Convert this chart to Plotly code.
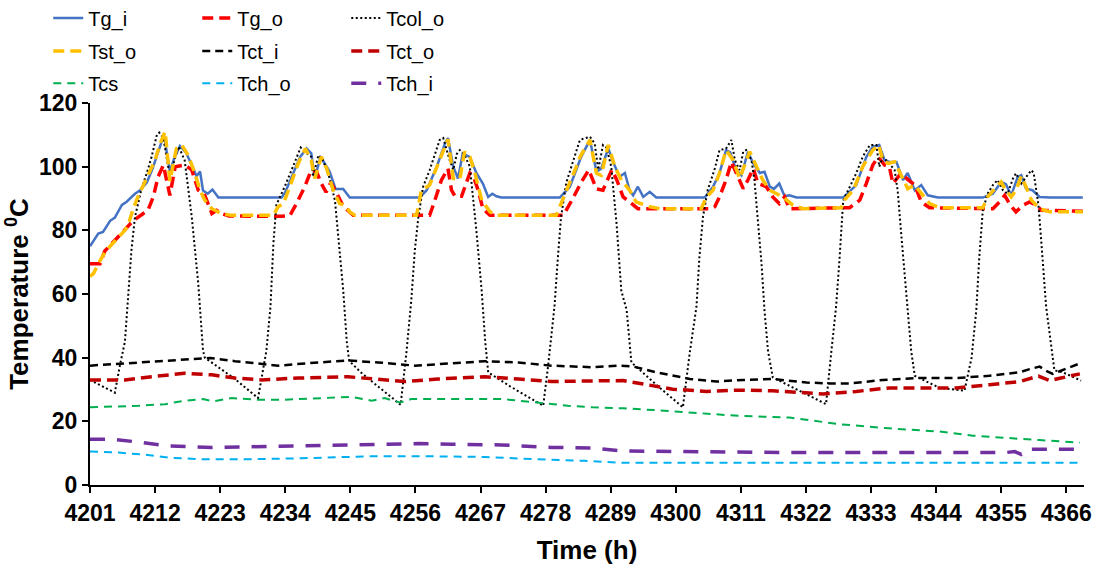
import plotly.graph_objects as go

# ---------------- data (hour of year, temperature in degC) ----------------
tg_i_h = [4201.0, 4202.4, 4203.2, 4204.4, 4205.2, 4206.4, 4207.2, 4208.6, 4209.4, 4210.6, 4211.5, 4212.4, 4213.5,
          4214.5, 4215.3, 4216.2, 4217.2, 4218.2, 4219.0, 4219.6, 4220.1, 4220.9, 4221.7, 4222.7, 4233.4,
          4234.0, 4235.3, 4236.5, 4237.6, 4238.4, 4239.0, 4239.9, 4240.5, 4241.5, 4242.5, 4243.8, 4244.9, 4256.7,
          4257.9, 4259.6, 4261.0, 4261.5, 4262.4, 4263.2, 4264.0, 4265.2, 4266.3, 4267.4, 4268.3, 4269.0, 4269.7,
          4270.5, 4280.4,
          4282.1, 4284.0, 4285.5, 4286.6, 4287.4, 4288.6, 4289.4, 4290.5, 4291.4, 4292.2, 4292.8, 4293.6, 4294.5,
          4295.6, 4296.7, 4304.9,
          4306.3, 4307.4, 4308.5, 4309.2, 4310.2, 4311.1, 4312.2, 4313.1, 4314.2, 4315.0, 4315.9, 4316.6, 4317.5,
          4318.4, 4319.2, 4320.4, 4328.3,
          4330.5, 4332.2, 4333.3, 4334.4, 4335.3, 4336.1, 4337.3, 4338.4, 4339.2, 4340.4, 4341.5, 4342.6, 4344.3,
          4351.9,
          4353.6, 4355.0, 4355.8, 4356.7, 4357.8, 4358.4, 4359.2, 4360.3, 4361.5, 4363.2, 4368.8]
tg_i_v = [75.0, 79.0, 79.5, 83.0, 84.0, 88.0, 89.0, 91.5, 92.5, 95.0, 99.0, 104.0, 110.0,
          98.5, 103.0, 106.5, 104.5, 100.5, 97.0, 98.5, 92.5, 91.5, 92.8, 90.3, 90.3,
          92.0, 98.0, 103.0, 105.7, 104.2, 96.5, 102.6, 101.5, 98.5, 93.0, 93.0, 90.3, 90.3,
          92.6, 100.0, 107.3, 109.0, 100.0, 96.3, 104.2, 103.0, 98.0, 94.7, 90.5, 91.5, 90.7,
          90.3, 90.3,
          93.7, 103.0, 108.4, 98.4, 99.4, 105.7, 101.5, 96.8, 98.0, 92.6, 91.0, 93.7, 90.5,
          92.1, 90.3, 90.3,
          93.7, 98.0, 105.2, 104.5, 99.0, 97.3, 104.7, 101.0, 98.0, 98.4, 93.7, 93.0, 94.7,
          90.7, 91.0, 90.3, 90.3,
          94.2, 103.0, 106.3, 106.8, 102.0, 101.5, 101.5, 95.8, 98.0, 92.6, 94.2, 91.0, 90.3,
          90.3,
          91.5, 95.2, 94.5, 91.0, 96.8, 97.3, 93.1, 92.6, 90.5, 90.3, 90.3]

tg_o_h = [4201.0, 4202.7, 4203.5, 4205.5, 4206.9, 4208.3, 4210.0, 4210.8, 4211.7, 4212.5, 4213.4, 4214.5, 4215.4,
          4217.0, 4218.2, 4219.3, 4220.4, 4221.6, 4222.4, 4223.2, 4224.5, 4233.4,
          4234.8, 4235.9, 4237.3, 4238.4, 4239.3, 4240.1, 4240.9, 4241.7, 4242.6, 4243.8, 4245.5, 4258.4,
          4259.3, 4260.4, 4261.5, 4262.1, 4262.7, 4263.8, 4265.2, 4265.8, 4266.6, 4267.4, 4268.6, 4281.0,
          4282.6, 4284.0, 4285.3, 4286.6, 4287.7, 4289.2, 4290.0, 4291.1, 4292.5, 4293.6, 4306.0,
          4306.6, 4307.4, 4308.5, 4309.4, 4310.2, 4311.4, 4312.2, 4313.1, 4313.9, 4315.3, 4316.4, 4317.5,
          4318.4, 4319.2, 4329.4,
          4331.1, 4332.2, 4333.3, 4334.2, 4335.3, 4336.1, 4336.7, 4338.1, 4339.2, 4340.4, 4341.5, 4342.9,
          4353.6,
          4354.7, 4355.6, 4356.5, 4357.5, 4358.7, 4359.8, 4360.9, 4361.8, 4368.8]
tg_o_v = [69.5, 69.5, 73.5, 77.5, 80.5, 83.0, 85.3, 86.3, 90.5, 96.8, 100.5, 91.0, 100.0,
          100.5, 99.0, 92.6, 91.0, 85.3, 86.3, 85.3, 84.5, 84.4,
          84.7, 88.4, 93.7, 98.9, 98.4, 94.7, 92.0, 95.0, 92.0, 87.5, 84.7, 84.7,
          89.5, 95.8, 99.4, 92.6, 90.7, 90.7, 98.0, 97.0, 92.6, 86.8, 84.7, 84.7,
          90.0, 95.0, 99.0, 93.0, 92.6, 99.0, 96.0, 90.5, 88.5, 86.8, 86.8,
          87.4, 90.5, 95.8, 101.5, 98.0, 93.1, 95.8, 99.4, 94.7, 93.7, 90.5, 88.4,
          90.5, 86.8, 87.1,
          89.5, 94.7, 100.5, 103.1, 100.5, 100.0, 94.7, 98.0, 96.0, 94.2, 88.9, 87.1,
          86.8,
          88.9, 91.0, 88.0, 85.8, 87.9, 88.9, 87.9, 86.3, 86.0]

tcol_o_h = [4201.0, 4205.2, 4206.1, 4206.9, 4207.4, 4208.0, 4208.6, 4209.7, 4210.6, 4211.4, 4212.3, 4212.7,
            4213.4, 4214.2, 4214.7, 4215.4, 4216.0, 4217.0, 4218.2, 4219.3, 4220.1, 4220.4, 4222.7, 4225.5,
            4229.4, 4230.8, 4231.5, 4232.0, 4232.5, 4233.9, 4235.3, 4236.6, 4237.4, 4238.4, 4238.7, 4239.6,
            4240.3, 4241.5, 4242.4, 4243.2, 4243.8, 4244.4, 4244.8, 4247.0, 4250.0, 4253.5,
            4254.5, 4255.3, 4255.9, 4256.5, 4257.3, 4258.4, 4260.1, 4260.7, 4261.8, 4262.4, 4263.0, 4263.5,
            4264.2, 4265.2, 4266.3, 4267.2, 4267.8, 4268.3, 4272.0, 4277.6,
            4278.4, 4279.5, 4280.1, 4280.6, 4281.5, 4282.5, 4283.8, 4285.5, 4286.3, 4286.9, 4287.7, 4288.3,
            4289.1, 4290.0, 4290.8, 4291.7, 4292.5, 4296.7, 4301.2,
            4302.4, 4303.5, 4304.0, 4304.6, 4305.4, 4306.6, 4307.4, 4308.5, 4309.4, 4310.0, 4310.8, 4311.4,
            4311.9, 4312.8, 4313.3, 4313.9, 4314.5, 4315.0, 4315.6, 4316.4, 4320.5, 4325.4,
            4326.3, 4327.1, 4327.7, 4328.3, 4329.4, 4330.5, 4331.6, 4332.8, 4333.9, 4334.4, 4335.0, 4335.9,
            4337.0, 4337.5, 4338.1, 4338.7, 4339.2, 4339.8, 4340.4, 4344.6, 4348.8,
            4350.0, 4350.8, 4351.3, 4351.9, 4352.7, 4353.6, 4354.4, 4355.3, 4356.1, 4357.0, 4357.5, 4358.4,
            4359.2, 4360.1, 4360.5, 4361.3, 4361.8, 4362.6, 4364.0, 4365.4, 4368.5]
tcol_o_v = [33.0, 29.0, 38.0, 45.0, 58.0, 73.7, 84.2, 93.0, 98.0, 103.0, 110.0, 110.7,
            109.0, 100.0, 98.0, 103.0, 106.3, 102.0, 84.2, 63.2, 42.2, 40.0, 37.0, 33.3,
            27.3, 42.0, 56.0, 76.0, 88.0, 93.7, 100.0, 106.0, 104.5, 103.1, 96.8, 103.6,
            102.5, 96.4, 89.4, 73.7, 61.1, 45.0, 39.0, 35.0, 30.5, 25.2,
            42.0, 58.0, 73.7, 84.2, 93.7, 98.9, 108.4, 109.0, 102.0, 99.0, 104.0, 105.2,
            104.0, 100.0, 80.0, 61.0, 45.0, 35.4, 31.0, 24.9,
            37.0, 56.0, 72.0, 84.0, 95.0, 101.0, 108.4, 109.4, 107.3, 99.0, 106.8, 106.0,
            100.0, 82.0, 61.0, 55.0, 38.5, 31.5, 24.4,
            42.0, 56.0, 71.6, 84.2, 92.6, 99.4, 105.2, 105.7, 108.4, 102.0, 98.9, 104.7,
            105.2, 102.0, 95.8, 82.1, 69.5, 54.8, 42.0, 33.8, 30.0, 25.4,
            42.0, 56.0, 71.6, 89.4, 93.6, 97.9, 103.1, 106.8, 106.8, 100.0, 103.0, 101.5,
            98.9, 92.6, 79.0, 65.3, 54.8, 42.0, 34.3, 30.5, 29.6,
            40.0, 55.0, 71.6, 86.3, 91.5, 94.2, 95.8, 92.6, 91.5, 96.3, 97.9, 94.7,
            96.8, 98.9, 98.0, 88.0, 76.0, 56.0, 36.0, 35.4, 32.8]

tst_o_h = [4201.0, 4201.6, 4202.7, 4203.5, 4204.4, 4205.8, 4206.9, 4207.5, 4208.3, 4209.2, 4210.6, 4212.0, 4212.8,
           4213.7, 4214.5, 4215.6, 4216.5, 4217.6, 4218.7, 4219.6, 4220.4, 4221.6, 4223.2, 4224.9, 4232.0,
           4232.8, 4233.7,
           4234.8, 4236.2, 4237.4, 4238.4, 4239.0, 4240.1, 4241.0, 4242.1, 4243.2, 4244.1, 4244.9, 4245.8, 4256.2,
           4257.0, 4258.4, 4259.8, 4261.5, 4262.4, 4263.5, 4264.3, 4265.2, 4266.0, 4267.2, 4268.6, 4269.7, 4279.8,
           4280.4, 4281.2, 4283.2, 4283.8, 4285.5, 4286.6, 4287.4, 4288.6, 4289.7, 4290.8, 4292.2, 4293.3, 4295.6,
           4297.3, 4304.3,
           4305.2, 4306.3, 4307.4, 4308.5, 4309.7, 4310.8, 4312.5, 4313.6, 4314.7, 4315.9, 4317.0, 4318.1, 4319.8,
           4321.5, 4328.0,
           4328.5, 4330.0, 4331.6, 4333.3, 4334.3, 4335.0, 4335.9, 4337.0, 4337.8, 4339.2, 4340.4, 4341.5, 4342.9,
           4344.6, 4351.9,
           4352.7, 4354.2, 4355.0, 4355.8, 4356.7, 4357.5, 4358.4, 4359.2, 4360.1, 4361.5, 4363.2, 4368.8]
tst_o_v = [65.5, 66.5, 70.5, 73.0, 75.0, 78.0, 80.0, 82.0, 86.8, 91.0, 96.3, 102.0, 107.0,
           111.0, 95.5, 105.7, 106.8, 103.6, 98.0, 92.6, 89.5, 86.8, 85.3, 84.7, 84.7,
           87.4, 88.4,
           93.7, 101.0, 105.7, 102.0, 96.3, 103.1, 99.4, 92.6, 88.4, 87.9, 85.8, 84.7, 84.7,
           92.6, 94.2, 101.0, 108.6, 96.3, 96.0, 104.7, 103.1, 98.4, 89.5, 85.8, 84.7, 84.7,
           87.4, 90.5, 100.0, 103.0, 108.4, 97.9, 97.3, 106.8, 100.0, 95.8, 92.6, 88.9, 87.4,
           86.8, 86.8,
           90.5, 92.6, 98.0, 105.2, 102.0, 96.3, 104.7, 100.0, 95.8, 92.6, 91.6, 90.5, 87.9,
           86.8, 87.1,
           89.5, 92.6, 100.0, 105.2, 106.8, 102.0, 101.0, 101.5, 98.4, 93.1, 94.2, 91.5, 88.4,
           87.1, 87.1,
           90.5, 93.7, 95.2, 92.6, 90.5, 92.6, 97.0, 93.7, 89.5, 86.8, 85.8, 85.8]

tct_i_h = [4201.0, 4206.9, 4212.5, 4217.0, 4221.3, 4225.5, 4232.8, 4239.6, 4244.6, 4249.7, 4255.9, 4262.1,
           4267.7, 4273.4, 4279.0, 4286.0, 4290.5, 4292.8, 4296.7, 4302.4, 4306.9, 4311.4, 4316.4, 4322.1,
           4326.0, 4329.4, 4335.0, 4340.6, 4347.4, 4353.0, 4358.1, 4359.8, 4361.5, 4362.6, 4363.7, 4365.1,
           4368.3]
tct_i_v = [37.5, 38.2, 38.9, 39.6, 39.9, 38.9, 37.5, 38.5, 39.1, 38.5, 37.5, 38.2,
           38.9, 38.5, 37.5, 37.0, 37.5, 37.2, 35.4, 33.3, 32.5, 33.0, 33.3, 32.2,
           31.9, 31.9, 33.0, 33.6, 33.6, 34.3, 35.4, 36.4, 37.2, 35.9, 34.9, 35.9,
           38.2]

tct_o_h = [4201.0, 4206.9, 4211.4, 4217.0, 4221.6, 4225.5, 4230.0, 4236.2, 4244.6, 4249.7, 4254.2, 4259.8,
           4267.7, 4273.4, 4279.0, 4286.0, 4291.1, 4294.5, 4299.5, 4305.2, 4310.8, 4316.4, 4324.9, 4330.5,
           4336.1, 4341.8, 4347.4, 4353.0, 4358.1, 4361.3, 4363.2, 4365.1, 4368.3]
tct_o_v = [33.0, 33.0, 34.0, 35.1, 34.6, 33.6, 33.0, 33.6, 34.0, 33.3, 32.5, 33.3,
           34.0, 33.3, 32.5, 32.7, 32.8, 31.7, 30.1, 29.4, 29.8, 29.6, 28.6, 29.4,
           30.5, 30.5, 30.5, 31.5, 32.5, 34.2, 32.8, 33.6, 34.9]

tcs_h = [4201.0, 4204.7, 4209.2, 4213.7, 4217.0, 4220.1, 4221.8, 4224.9, 4229.4, 4233.9, 4239.6, 4245.2,
         4248.6, 4250.8, 4253.4, 4255.3, 4259.3, 4264.9, 4270.5, 4273.4, 4277.9, 4281.8, 4286.0, 4291.1,
         4296.7, 4302.4, 4310.8, 4319.2, 4327.7, 4336.1, 4344.6, 4350.2, 4355.8, 4361.5, 4368.3]
tcs_v = [24.4, 24.6, 24.9, 25.4, 26.5, 27.0, 26.3, 27.3, 26.8, 26.8, 27.2, 27.7,
         26.5, 27.3, 25.9, 27.0, 27.0, 27.0, 27.0, 26.5, 25.6, 24.9, 24.4, 24.1,
         23.5, 22.8, 21.7, 21.2, 19.1, 17.8, 16.8, 15.5, 14.7, 14.1, 13.3]

tch_o_h = [4201.0, 4205.8, 4210.3, 4214.2, 4219.9, 4228.3, 4236.8, 4248.0, 4259.3, 4267.7, 4276.2, 4284.6,
           4290.5, 4368.0]
tch_o_v = [10.5, 10.2, 9.5, 8.6, 8.1, 8.1, 8.4, 9.0, 9.0, 8.8, 8.1, 7.6,
           7.0, 7.0]

tch_i_h = [4201.0, 4204.7, 4208.6, 4214.2, 4221.6, 4228.3, 4239.6, 4250.8, 4256.5, 4262.1, 4270.5, 4279.0,
           4286.0, 4291.1, 4302.4, 4319.2, 4336.1, 4355.8, 4357.3, 4358.4, 4359.5, 4368.3]
tch_i_v = [14.4, 14.4, 13.6, 12.3, 11.8, 12.0, 12.3, 12.8, 13.0, 12.8, 12.6, 11.8,
           11.6, 10.7, 10.5, 10.2, 10.2, 10.2, 10.5, 9.6, 11.2, 11.2]

x_ticks = [4201, 4212, 4223, 4234, 4245, 4256, 4267, 4278, 4289, 4300, 4311, 4322, 4333, 4344, 4355, 4366]
y_ticks = [0, 20, 40, 60, 80, 100, 120]

# ---------------- styling ----------------
FONT = "Liberation Sans, Arial, sans-serif"
NARROW = "Liberation Sans Narrow, Arial Narrow, Liberation Sans, Arial, sans-serif"

series = [
    # name, hours, values, colour, width, dash, legend row
    ("Tg_i", tg_i_h, tg_i_v, "#4472C4", 2.5, "solid", "legend"),
    ("Tg_o", tg_o_h, tg_o_v, "#FF0000", 3.5, "11px,6px", "legend"),
    ("Tcol_o", tcol_o_h, tcol_o_v, "#000000", 2.0, "2px,2.5px", "legend"),
    ("Tst_o", tst_o_h, tst_o_v, "#FFC000", 3.5, "11px,6px", "legend2"),
    ("Tct_i", tct_i_h, tct_i_v, "#000000", 2.5, "8px,5px", "legend2"),
    ("Tct_o", tct_o_h, tct_o_v, "#C00000", 3.5, "11px,6px", "legend2"),
    ("Tcs", tcs_h, tcs_v, "#00B050", 2.0, "8px,6px", "legend3"),
    ("Tch_o", tch_o_h, tch_o_v, "#00B0F0", 2.0, "8px,6px", "legend3"),
    ("Tch_i", tch_i_h, tch_i_v, "#7030A0", 3.5, "15px,12px", "legend3"),
]

fig = go.Figure()
for name, hx, vy, color, width, dash, leg in series:
    fig.add_trace(go.Scatter(
        x=hx, y=vy, name=name, mode="lines", legend=leg,
        line=dict(color=color, width=width, dash=dash),
        hoverinfo="skip",
    ))

legend_common = dict(
    orientation="h", xanchor="left", yanchor="middle", x=-0.042,
    font=dict(family=NARROW, size=20, color="black"),
    bgcolor="rgba(0,0,0,0)", borderwidth=0,
    entrywidth=104, entrywidthmode="pixels", itemwidth=30,
)

fig.update_layout(
    width=1103, height=571,
    margin=dict(l=90, r=19, t=103, b=86, autoexpand=False),
    paper_bgcolor="white", plot_bgcolor="white",
    font=dict(family=FONT, color="black"),
    showlegend=True,
    legend=dict(y=1.2225, **legend_common),
    legend2=dict(y=1.136, **legend_common),
    legend3=dict(y=1.052, **legend_common),
    xaxis=dict(
        range=[4201, 4369], tickmode="array", tickvals=x_ticks,
        ticktext=[str(t) for t in x_ticks],
        showgrid=False, zeroline=False,
        showline=True, linecolor="black", linewidth=2,
        ticks="outside", ticklen=6, tickwidth=2, tickcolor="black",
        tickfont=dict(family=FONT, size=23, color="black", weight="bold"),
        title=dict(text="<b>Time (h)</b>", font=dict(family=FONT, size=26, color="black"), standoff=16),
    ),
    yaxis=dict(
        range=[0, 120], tickmode="array", tickvals=y_ticks,
        showgrid=False, zeroline=False,
        showline=True, linecolor="black", linewidth=2,
        ticks="outside", ticklen=6, tickwidth=2, tickcolor="black",
        tickfont=dict(family=FONT, size=23, color="black", weight="bold"),
        title=dict(text="<b>Temperature <sup>0</sup>C</b>", font=dict(family=FONT, size=26, color="black"),
                   standoff=3),
    ),
)

fig.write_html("out.html")
